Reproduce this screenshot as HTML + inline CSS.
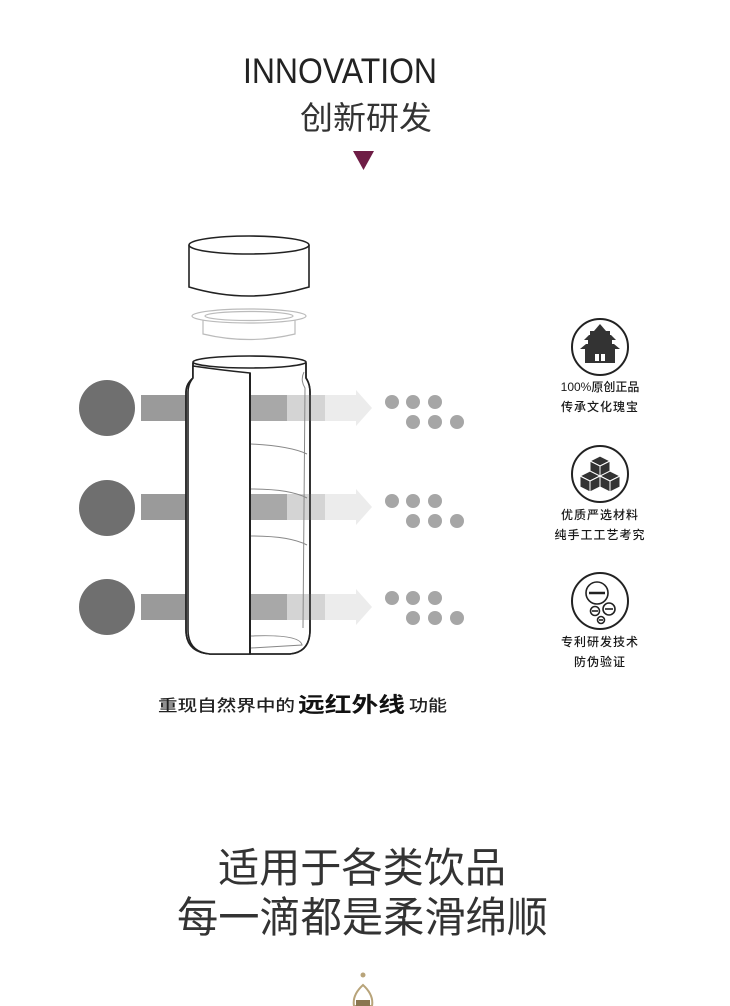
<!DOCTYPE html>
<html><head><meta charset="utf-8"><style>
html,body{margin:0;padding:0;background:#fff;}
svg{display:block;}
text{font-family:"Liberation Sans","Noto Sans CJK SC",sans-serif;}
</style></head><body>
<svg width="730" height="1006" viewBox="0 0 730 1006" xmlns="http://www.w3.org/2000/svg">
<rect width="730" height="1006" fill="#fff"/>
<text x="243" y="83" font-size="35" fill="#222" textLength="194" lengthAdjust="spacingAndGlyphs">INNOVATION</text>
<text x="300" y="129" font-size="32" fill="#333" textLength="132" lengthAdjust="spacingAndGlyphs">创新研发</text>
<polygon points="353,151 374,151 363.5,170" fill="#6e1d45"/>

<circle cx="107" cy="408" r="28" fill="#6f6f6f"/>
<circle cx="107" cy="508" r="28" fill="#6f6f6f"/>
<circle cx="107" cy="607" r="28" fill="#6f6f6f"/>
<g fill="#9a9a9a">
<rect x="141" y="395" width="46" height="26"/>
<rect x="141" y="494" width="46" height="26"/>
<rect x="141" y="594" width="46" height="26"/>
</g>

<g stroke="#222" stroke-width="1.6" fill="#fff">
<path d="M189,245 L189,287 Q249,305 309,287 L309,245"/>
<ellipse cx="249" cy="245" rx="60" ry="9"/>
</g>
<g stroke="#bbb" stroke-width="1.2" fill="none">
<ellipse cx="249" cy="316" rx="57" ry="7"/>
<ellipse cx="249" cy="316" rx="44" ry="4.5"/>
<path d="M203,320 L203,334 Q249,345 295,334 L295,320"/>
</g>

<path d="M193,363 L193,378 Q186,384 186,392 L186,630 Q186,652 210,654 L290,654 Q310,652 310,630 L310,392 Q310,384 306,378 L306,363 Q250,350 193,363 Z" stroke="#222" stroke-width="1.6" fill="#fff"/>
<g>
<rect x="251" y="395" width="36" height="26" fill="#a8a8a8"/>
<rect x="287" y="395" width="38" height="26" fill="#cfcfcf" opacity="0.9"/>
<polygon points="325,395 356,395 356,390 372,408 356,426 356,421 325,421" fill="#ececec"/>
<rect x="251" y="494" width="36" height="26" fill="#a8a8a8"/>
<rect x="287" y="494" width="38" height="26" fill="#cfcfcf" opacity="0.9"/>
<polygon points="325,494 356,494 356,489 372,507 356,525 356,520 325,520" fill="#ececec"/>
<rect x="251" y="594" width="36" height="26" fill="#a8a8a8"/>
<rect x="287" y="594" width="38" height="26" fill="#cfcfcf" opacity="0.9"/>
<polygon points="325,594 356,594 356,589 372,607 356,625 356,620 325,620" fill="#ececec"/>
</g>
<g stroke="#888" stroke-width="1" fill="none">
<path d="M251,444 Q290,446 307,454"/>
<path d="M251,489 Q290,489 307,498"/>
<path d="M251,536 Q290,536 307,545"/>
<path d="M251,636 Q300,634 302,645 L251,648"/>
<path d="M304,372 Q300,380 305,388 L303,628"/>
</g>
<path d="M193,363 L193,378 Q186,384 186,392 L186,630 Q186,652 210,654 L290,654 Q310,652 310,630 L310,392 Q310,384 306,378 L306,363" stroke="#222" stroke-width="1.6" fill="none"/>
<ellipse cx="249.5" cy="362" rx="56.5" ry="6" stroke="#222" stroke-width="1.6" fill="#fff"/>
<path d="M193,366 Q220,370 250,373 L250,654 L210,654 Q188,652 188,630 L188,392 Q188,384 193,378 Z" fill="#fff" stroke="#222" stroke-width="1.6"/>
<line x1="250" y1="373" x2="250" y2="654" stroke="#222" stroke-width="2"/>

<g fill="#a6a6a6">
<circle cx="392" cy="402" r="7"/><circle cx="413" cy="402" r="7"/><circle cx="435" cy="402" r="7"/>
<circle cx="413" cy="422" r="7"/><circle cx="435" cy="422" r="7"/><circle cx="457" cy="422" r="7"/>
<circle cx="392" cy="501" r="7"/><circle cx="413" cy="501" r="7"/><circle cx="435" cy="501" r="7"/>
<circle cx="413" cy="521" r="7"/><circle cx="435" cy="521" r="7"/><circle cx="457" cy="521" r="7"/>
<circle cx="392" cy="598" r="7"/><circle cx="413" cy="598" r="7"/><circle cx="435" cy="598" r="7"/>
<circle cx="413" cy="618" r="7"/><circle cx="435" cy="618" r="7"/><circle cx="457" cy="618" r="7"/>
</g>

<g stroke="#222" stroke-width="2" fill="none">
<circle cx="600" cy="347" r="28"/>
<circle cx="600" cy="474" r="28"/>
<circle cx="600" cy="601" r="28"/>
</g>
<g fill="#333">
<polygon points="600,324 594,331 606,331"/>
<rect x="590" y="331" width="20" height="5"/>
<polygon points="584,340 616,340 611,335 589,335"/>
<rect x="588" y="340" width="24" height="5"/>
<polygon points="580,349 620,349 614,344 586,344"/>
<rect x="585" y="349" width="30" height="14"/>
</g>
<rect x="595" y="354" width="4" height="7" fill="#fff"/><rect x="601" y="354" width="4" height="7" fill="#fff"/>
<g fill="#333" stroke="#fff" stroke-width="1">
<polygon points="600,456 610,461 600,466 590,461"/>
<polygon points="590,461 600,466 600,477 590,472"/>
<polygon points="610,461 600,466 600,477 610,472"/>
<polygon points="590,471 600,476 590,481 580,476"/>
<polygon points="580,476 590,481 590,492 580,487"/>
<polygon points="600,476 590,481 590,492 600,487"/>
<polygon points="610,471 620,476 610,481 600,476"/>
<polygon points="600,476 610,481 610,492 600,487"/>
<polygon points="620,476 610,481 610,492 620,487"/>
</g>
<g stroke="#222" stroke-width="1.6" fill="none">
<circle cx="597" cy="593" r="11"/>
<line x1="589" y1="593" x2="605" y2="593" stroke-width="2.5"/>
<circle cx="609" cy="609" r="6"/><line x1="605" y1="609" x2="613" y2="609"/>
<circle cx="595" cy="611" r="4.5"/><line x1="592" y1="611" x2="598" y2="611"/>
<circle cx="601" cy="620" r="3.5"/><line x1="599" y1="620" x2="603" y2="620"/>
</g>
<g font-size="12" fill="#1a1a1a" text-anchor="middle" font-weight="500">
<text x="600" y="391">100%原创正品</text>
<text x="600" y="411" letter-spacing="1">传承文化瑰宝</text>
<text x="600" y="519" letter-spacing="1">优质严选材料</text>
<text x="600" y="539" letter-spacing="1">纯手工工艺考究</text>
<text x="600" y="646" letter-spacing="1">专利研发技术</text>
<text x="600" y="666" letter-spacing="1">防伪验证</text>
</g>

<text x="158" y="711" font-size="16" font-weight="500" fill="#222" textLength="137" lengthAdjust="spacingAndGlyphs">重现自然界中的</text>
<text x="298" y="712" font-size="21" font-weight="bold" fill="#111" textLength="107" lengthAdjust="spacingAndGlyphs">远红外线</text>
<text x="409" y="711" font-size="16" font-weight="500" fill="#222" textLength="38" lengthAdjust="spacingAndGlyphs">功能</text>

<text x="218" y="882" font-size="41" fill="#333" textLength="288" lengthAdjust="spacingAndGlyphs">适用于各类饮品</text>
<text x="177" y="932" font-size="42" fill="#333" textLength="371" lengthAdjust="spacingAndGlyphs">每一滴都是柔滑绵顺</text>

<circle cx="363" cy="975" r="2.5" fill="#b8a47a"/>
<path d="M363,985 Q352,995 354,1006 L372,1006 Q374,995 363,985 Z" fill="none" stroke="#b8a47a" stroke-width="2"/>
<rect x="356" y="1000" width="14" height="6" fill="#8a7650"/>
</svg>
</body></html>
